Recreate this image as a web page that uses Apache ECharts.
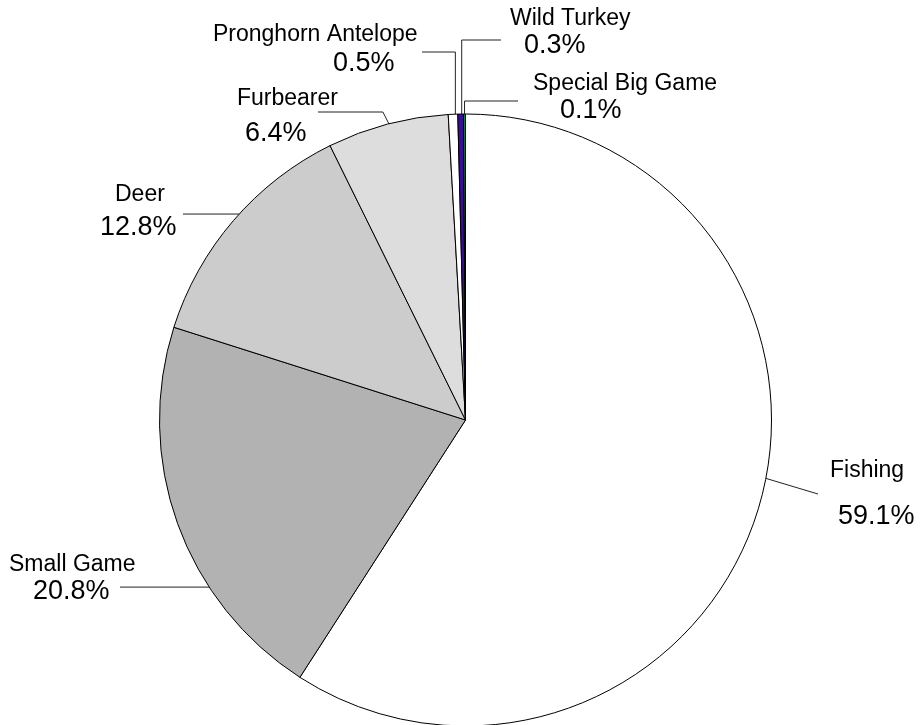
<!DOCTYPE html>
<html>
<head>
<meta charset="utf-8">
<script src="https://cdn.jsdelivr.net/npm/echarts@6/dist/echarts.min.js"></script>
<style>
  html, body { margin: 0; padding: 0; background: #ffffff; }
  #chart { width: 924px; height: 725px; }
</style>
</head>
<body>
<div id="chart"></div>
<script>
// Share of licence revenue by activity (percent)
const categories = ['Fishing', 'Small Game', 'Deer', 'Furbearer', 'Pronghorn Antelope', 'Wild Turkey', 'Special Big Game'];
const shares = [59.1, 20.8, 12.8, 6.4, 0.5, 0.3, 0.1];
const sliceColors = ['#ffffff', '#b2b2b2', '#cccccc', '#dddddd', '#ffffff', '#3b0c9c', '#00a040'];

// Pie geometry
const PIE_CX = 465.5, PIE_CY = 420, PIE_R = 306;
const NAME_SIZE = 23, PCT_SIZE = 27, NAME_LINE = 28;
const FONT = '"Liberation Sans", Arial, sans-serif';

// Label placement: left edge and baseline of the name line (nx, nb) and of the percent line (px, pb);
// leader: where it touches the rim (edgeDeg, clockwise from 12 o'clock), bend and end.
const labelSpots = [
  { nx: 830, nb: 479, px: 838, pb: 526, edgeDeg: 101, end: [818, 494] },
  { nx: 9,   nb: 573, px: 33,  pb: 601, edgeDeg: 236.9, endX: 120 },
  { nx: 115, nb: 203, px: 100, pb: 237, edgeDeg: 312.3, endX: 183 },
  { nx: 237, nb: 107, px: 245, pb: 143, edgeDeg: 345.5, bendDx: -6, lineY: 112, endX: 318 },
  { nx: 213, nb: 43,  px: 333, pb: 73,  edgeDeg: 358.1, lineY: 52, endX: 422 },
  { nx: 510, nb: 27,  px: 524, pb: 55,  edgeDeg: 359.29, lineY: 40, endX: 501 },
  { nx: 533, nb: 92,  px: 560, pb: 120, lineY: 101, endX: 518 }
];

// mid angle of each slice, clockwise from the top, in degrees
const total = shares.reduce((a, b) => a + b, 0);
const midDeg = [];
(function () {
  let acc = 0;
  shares.forEach(v => { midDeg.push((acc + v / 2) / total * 360); acc += v; });
})();

function rimPoint(deg) {
  const a = deg * Math.PI / 180;
  return [PIE_CX + PIE_R * Math.sin(a), PIE_CY - PIE_R * Math.cos(a)];
}

function blockOf(i) {
  const s = labelSpots[i];
  const left = Math.min(s.nx, s.px);
  const nameCenter = s.nb - 0.36 * NAME_SIZE;
  const pctCenter = s.pb - 0.36 * PCT_SIZE;
  const top = nameCenter - NAME_LINE / 2;
  const pctLine = Math.max(2, 2 * (pctCenter - top - NAME_LINE));
  return { left, top, padN: s.nx - left, padP: s.px - left, pctLine };
}

function leaderOf(i) {
  const s = labelSpots[i];
  const edge = rimPoint(s.edgeDeg !== undefined ? s.edgeDeg : midDeg[i]);
  if (s.end) return [edge, s.end.slice(), s.end.slice()];
  const y = s.lineY !== undefined ? s.lineY : edge[1];
  const bend = [edge[0] + (s.bendDx || 0), y];
  return [edge, bend, [s.endX, y]];
}

const pieData = categories.map((name, i) => {
  const b = blockOf(i);
  return {
    name: name,
    value: shares[i],
    itemStyle: { color: sliceColors[i] },
    label: {
      rich: {
        n: { fontSize: NAME_SIZE, lineHeight: NAME_LINE, color: '#000', fontFamily: FONT, padding: [0, 0, 0, b.padN] },
        p: { fontSize: PCT_SIZE, lineHeight: b.pctLine, color: '#000', fontFamily: FONT, padding: [0, 0, 0, b.padP] }
      }
    }
  };
});

const chart = echarts.init(document.getElementById('chart'), null, { renderer: 'canvas' });
chart.setOption({
  animation: false,
  backgroundColor: '#ffffff',
  series: [{
    type: 'pie',
    center: [PIE_CX, PIE_CY],
    radius: [0, PIE_R],
    startAngle: 90,
    clockwise: true,
    avoidLabelOverlap: false,
    minAngle: 0,
    emphasis: { disabled: true },
    itemStyle: { borderColor: '#000000', borderWidth: 1 },
    label: {
      show: true,
      position: 'outside',
      formatter: p => '{n|' + p.name + '}\n{p|' + shares[p.dataIndex].toFixed(1) + '%}',
      fontFamily: FONT
    },
    labelLine: {
      show: true,
      length: 10,
      length2: 10,
      smooth: false,
      lineStyle: { color: '#222222', width: 1 }
    },
    labelLayout: function (params) {
      const i = params.dataIndex;
      const b = blockOf(i);
      return {
        x: b.left,
        y: b.top,
        align: 'left',
        verticalAlign: 'top',
        hideOverlap: false,
        moveOverlap: null,
        labelLinePoints: leaderOf(i)
      };
    },
    data: pieData
  }]
});
</script>
</body>
</html>
